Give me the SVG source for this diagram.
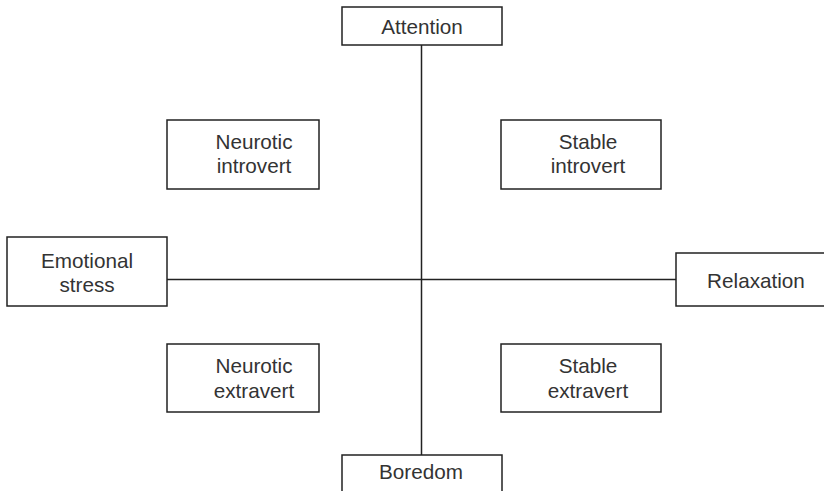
<svg xmlns="http://www.w3.org/2000/svg" width="824" height="491" viewBox="0 0 824 491">
<style>
.box{fill:#fff;stroke:#222;stroke-width:1.5}
.ln{stroke:#222;stroke-width:1.5;fill:none}
text{font-family:"Liberation Sans",Arial,sans-serif;font-size:20.7px;fill:#333;text-anchor:middle}
</style>
<g id="connectors">
<line class="ln" x1="421.5" y1="45" x2="421.5" y2="455"/>
<line class="ln" x1="167" y1="279.5" x2="676" y2="279.5"/>
</g>
<g id="attention"><rect class="box" x="342" y="7" width="160" height="38"/><text x="422" y="34">Attention</text></g>
<g id="neurotic-introvert"><rect class="box" x="167" y="120" width="152" height="69"/><text x="254" y="149">Neurotic</text><text x="254" y="173">introvert</text></g>
<g id="stable-introvert"><rect class="box" x="501" y="120" width="160" height="69"/><text x="588" y="149">Stable</text><text x="588" y="173">introvert</text></g>
<g id="emotional-stress"><rect class="box" x="7" y="237" width="160" height="69"/><text x="87" y="268">Emotional</text><text x="87" y="292">stress</text></g>
<g id="relaxation"><rect class="box" x="676" y="253" width="160" height="53"/><text x="756" y="288">Relaxation</text></g>
<g id="neurotic-extravert"><rect class="box" x="167" y="344" width="152" height="68"/><text x="254" y="373">Neurotic</text><text x="254" y="398">extravert</text></g>
<g id="stable-extravert"><rect class="box" x="501" y="344" width="160" height="68"/><text x="588" y="373">Stable</text><text x="588" y="398">extravert</text></g>
<g id="boredom"><rect class="box" x="342" y="455" width="160" height="50"/><text x="421" y="479">Boredom</text></g>
</svg>
